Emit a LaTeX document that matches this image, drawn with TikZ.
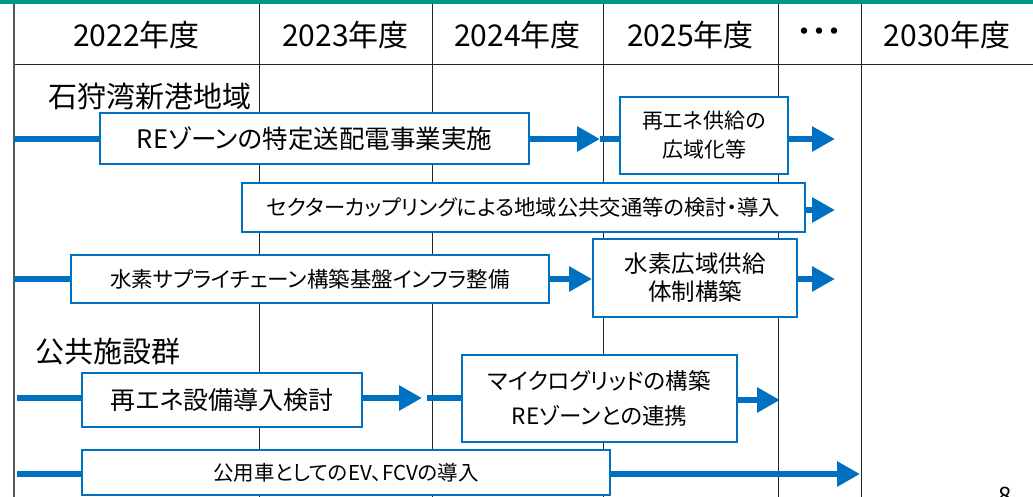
\documentclass[tikz,border=0pt]{standalone}
\usepackage{fontspec}
\setmainfont{Noto Sans CJK JP}[RawFeature={+palt}]
\usetikzlibrary{arrows.meta}
\definecolor{rblue}{HTML}{0070C0}
\definecolor{rgreen}{HTML}{009B86}
\definecolor{rgrid}{HTML}{262626}
\definecolor{rleft}{HTML}{595959}
\begin{document}
\begin{tikzpicture}[x=1pt,y=-1pt,
  box/.style={draw=rblue, line width=2pt, fill=white, inner sep=0pt, align=center, text=black},
  bar/.style={draw=rblue, line width=6pt},
  arr/.style={draw=rblue, line width=6pt, -{Triangle[length=23pt,width=24pt]}},
  gridline/.style={draw=rgrid, line width=1pt},
  head/.style={font=\fontsize{30}{34}\selectfont, text=black, inner sep=0pt},
  sect/.style={font=\fontsize{29}{33}\selectfont, text=black, inner sep=0pt, anchor=west},
]
\useasboundingbox (0,0) rectangle (1033,497);
% top bar
\fill[rgreen] (0,0) rectangle (1033,4.5);
% grid
\draw[gridline] (14,65) -- (1033,65);
\foreach \xx in {259,432,603,778,861} {\draw[gridline] (\xx,4.5) -- (\xx,497);}
\draw[rleft, line width=2pt] (14,4.5) -- (14,497);
% header
\node[head] (h1) at (136.5,35) {2022年度};
\node[head] (h2) at (345.5,35) {2023年度};
\node[head] (h3) at (517.5,35) {2024年度};
\node[head] (h4) at (690.5,35) {2025年度};
\node[head] (h5) at (819.5,35) {・・・};
\node[head] (h6) at (947,35) {2030年度};
% sections
\node[sect] (s1) at (48,97) {石狩湾新港地域};
\node[sect] (s2) at (35,352) {公共施設群};
% boxes
\node[box, minimum width=429pt, minimum height=51pt, font=\fontsize{25.5}{29}\selectfont] (b1) at (314.5,138.5) {REゾーンの特定送配電事業実施};
\node[box, minimum width=168pt, minimum height=77pt, font=\fontsize{21}{29}\selectfont] (b2) at (704,135.5) {再エネ供給の\\広域化等};
\node[box, minimum width=563pt, minimum height=49pt, font=\fontsize{21.3}{25}\selectfont] (b3) at (523.5,207.5) {セクターカップリングによる地域公共交通等の検討・導入};
\node[box, minimum width=478pt, minimum height=48pt, font=\fontsize{21.5}{25}\selectfont] (b4) at (310,279) {水素サプライチェーン構築基盤インフラ整備};
\node[box, minimum width=204pt, minimum height=78pt, font=\fontsize{23.5}{28}\selectfont] (b5) at (695,278) {水素広域供給\\体制構築};
\node[box, minimum width=280pt, minimum height=54pt, font=\fontsize{25}{29}\selectfont] (b6) at (222,400) {再エネ設備導入検討};
\node[box, minimum width=275pt, minimum height=87pt, font=\fontsize{22.5}{35}\selectfont] (b7) at (599.5,398.5) {マイクログリッドの構築\\REゾーンとの連携};
\node[box, minimum width=528pt, minimum height=45pt, font=\fontsize{20.5}{24}\selectfont] (b8) at (346,472.5) {公用車としてのEV、FCVの導入};
% connectors
\coordinate (L1) at (14,139);
\coordinate (t1) at (600,139);
\coordinate (t2) at (835,139);
\coordinate (t3) at (835,210);
\coordinate (L3) at (14,279);
\coordinate (t5) at (835,279);
\coordinate (L4) at (17,398);
\coordinate (t6) at (422,398);
\coordinate (c6) at (427,398);
\coordinate (t7) at (780,400);
\coordinate (L5) at (17,474);
\coordinate (t8) at (860,474);
\draw[bar] (L1) -- (b1.west |- L1);
\draw[bar] (t1) -- (b2.west |- t1);
\draw[arr] (b1.east |- t1) -- (t1);
\draw[arr] (b2.east |- t2) -- (t2);
\draw[arr] (b3.east |- t3) -- (t3);
\draw[bar] (L3) -- (b4.west |- L3);
\draw[arr] (b4.east |- L3) -- (b5.west |- L3);
\draw[arr] (b5.east |- t5) -- (t5);
\draw[bar] (L4) -- (b6.west |- L4);
\draw[arr] (b6.east |- t6) -- (t6);
\draw[bar] (c6) -- (b7.west |- c6);
\draw[arr] (b7.east |- t7) -- (t7);
\draw[bar] (L5) -- (b8.west |- L5);
\draw[arr] (b8.east |- t8) -- (t8);
% page number (cut off at the lower edge, as in the reference)
\node[anchor=north, inner sep=0pt, font=\fontsize{24}{28}\selectfont, text=black] (pg) at (1005,487) {8};
\end{tikzpicture}
\end{document}
